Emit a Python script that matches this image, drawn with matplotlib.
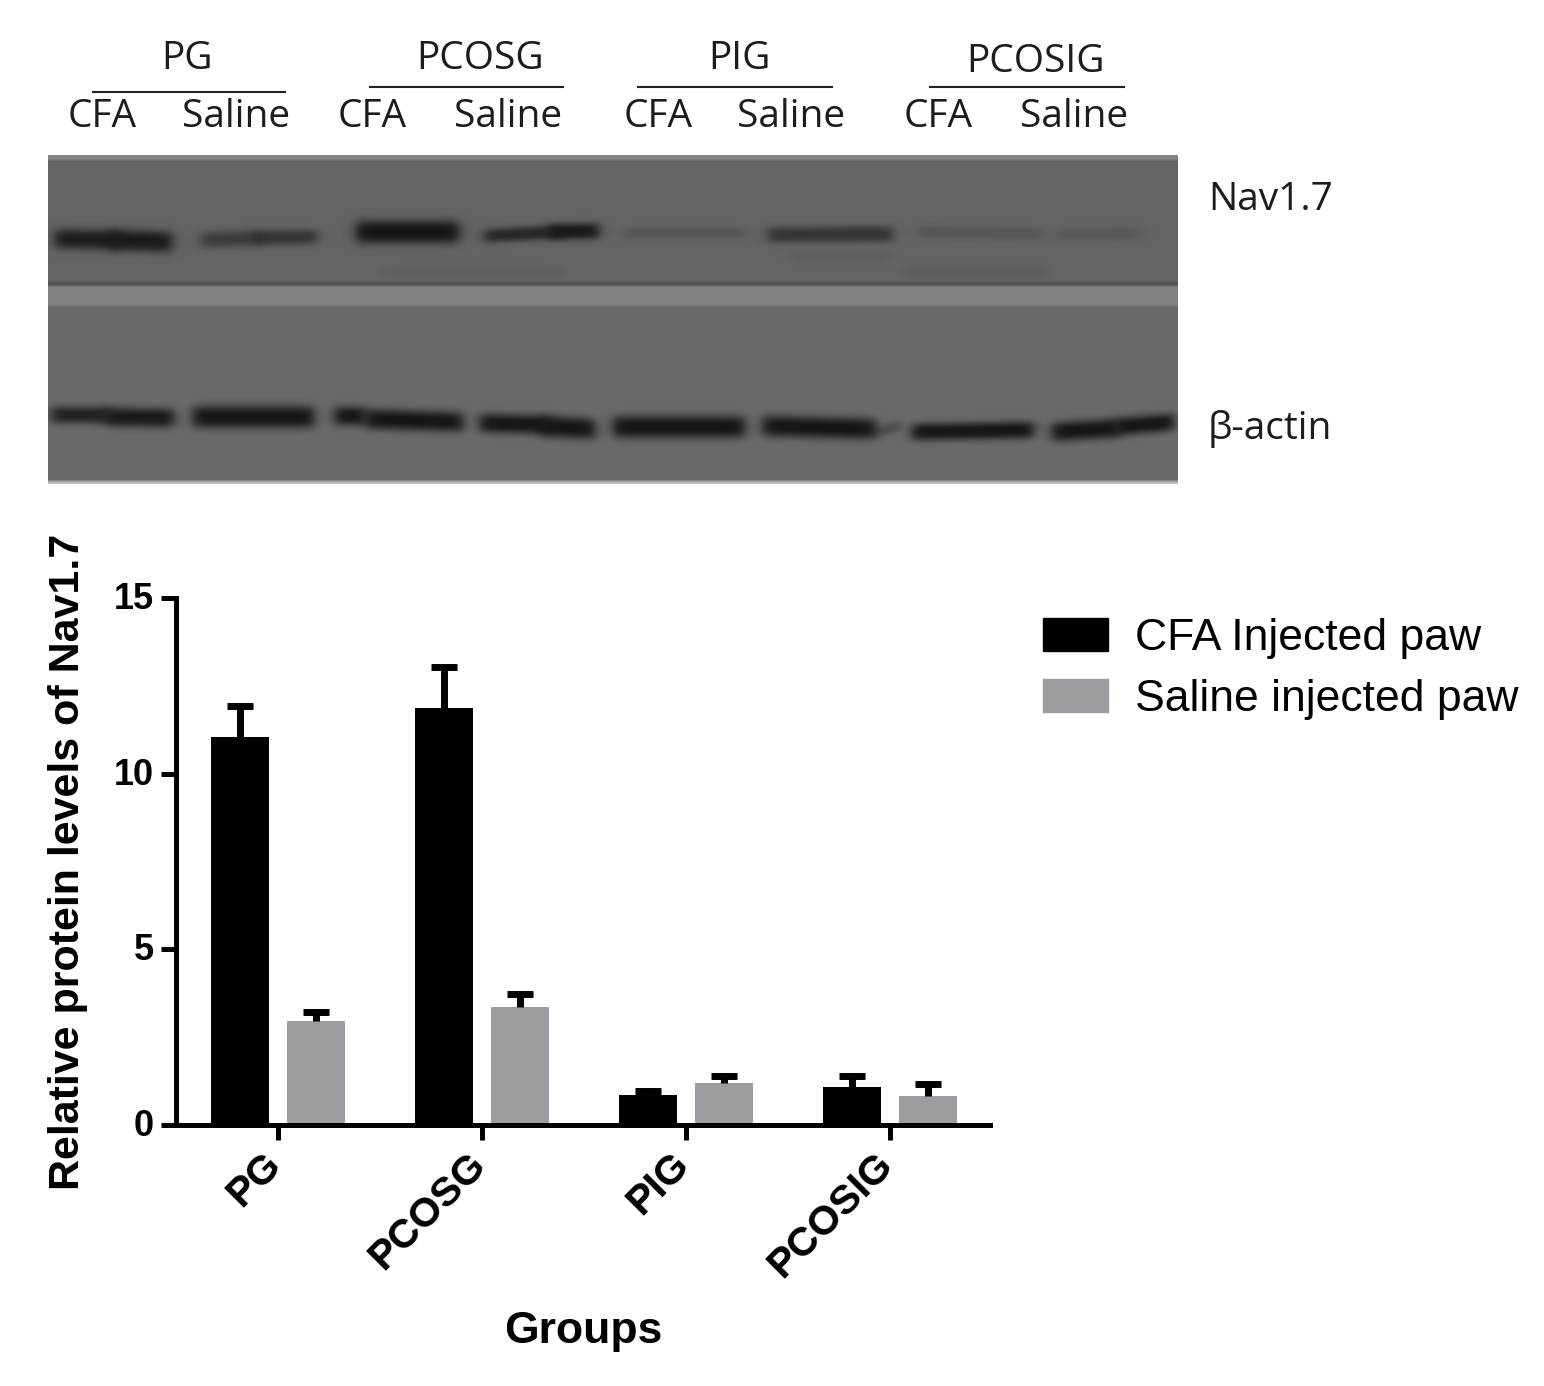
import numpy as np
import matplotlib
matplotlib.use('Agg')
import matplotlib.pyplot as plt
from matplotlib.lines import Line2D
from matplotlib.patches import Patch
from matplotlib.transforms import ScaledTranslation

W, H = 1544, 1386

# bar chart values
groups = ['PG', 'PCOSG', 'PIG', 'PCOSIG']
cfa = [11.05, 11.87, 0.85, 1.08]
cfa_err = [0.89, 1.17, 0.12, 0.32]
saline = [2.96, 3.36, 1.20, 0.83]
saline_err = [0.26, 0.37, 0.20, 0.34]
yticks = [0, 5, 10, 15]

# blot labels
header_names = ['PG', 'PCOSG', 'PIG', 'PCOSIG']
header_x = [187, 480, 739, 1035]
header_y = [55, 55, 55, 58]
line_x0 = [93, 370, 638, 930]
line_x1 = [285, 563, 832, 1124]
line_y = [92, 87, 87, 87]
cfa_x = [102, 372, 658, 938]
saline_x = [236, 508, 791, 1074]

# blot bands: x start, x end, y at start, y at end, thickness, darkness
top_bands = [
    (55, 120, 239, 240, 14, 0.90),
    (110, 172, 240, 242, 15, 0.95),
    (201, 262, 240, 238, 10, 0.50),
    (255, 317, 238, 237, 9, 0.60),
    (356, 459, 232, 232, 17, 1.10),
    (484, 560, 236, 232, 8, 0.75),
    (550, 599, 232, 231, 10, 0.95),
    (625, 745, 233, 233, 5, 0.18),
    (768, 893, 235, 234, 10, 0.60),
    (916, 1044, 232, 234, 6, 0.17),
    (1057, 1143, 234, 233, 7, 0.13),
    (385, 560, 272, 272, 5, 0.06),
    (790, 890, 257, 257, 5, 0.08),
    (905, 1045, 272, 272, 6, 0.10),
]
low_bands = [
    (51, 110, 415, 415, 11, 0.85),
    (105, 174, 417, 418, 13, 0.95),
    (193, 314, 417, 417, 16, 1.05),
    (335, 365, 416, 416, 13, 1.00),
    (365, 463, 419, 422, 14, 1.00),
    (480, 550, 423, 425, 13, 1.05),
    (540, 595, 426, 429, 15, 1.05),
    (613, 745, 427, 427, 16, 1.10),
    (763, 876, 426, 429, 15, 1.10),
    (876, 900, 432, 426, 5, 0.35),
    (912, 1034, 432, 430, 11, 1.00),
    (1052, 1120, 432, 428, 13, 1.10),
    (1115, 1174, 427, 422, 12, 1.10),
]

# blot background strips: y start, y end, grey level
strips = [
    (155, 160, 135),
    (160, 282, 100),
    (282, 286, 82),
    (286, 306, 130),
    (306, 481, 106),
    (481, 484, 185),
]

fig = plt.figure(figsize=(W / 100, H / 100), dpi=100, facecolor='white')


def fx(x):
    return x / W


def fy(y):
    return 1 - y / H


# ---- blot image ----
bx0, bx1, by0, by1 = 48, 1178, 155, 484
img = np.zeros((by1 - by0, bx1 - bx0))
xx, yy = np.meshgrid(np.arange(bx0, bx1) + 0.5, np.arange(by0, by1) + 0.5)
for y0, y1, g in strips:
    img[(yy >= y0) & (yy < y1)] = g

# soften the strip edges a little
soft = img.copy()
soft[1:-1] = (img[:-2] + img[1:-1] + img[2:]) / 3
img = soft

for b in top_bands + low_bands:
    x0, x1, ya, yb, th, dark = b
    centre = ya + (yb - ya) * (xx - x0) / (x1 - x0)
    across = np.exp(-(np.abs(yy - centre) / (th / 2 + 3.5)) ** 2.6)
    along = 1 / (1 + np.exp((x0 - xx) / 3.5)) * 1 / (1 + np.exp((xx - x1) / 3.5))
    level = np.clip(dark, 0, 1.0) * across * along
    img = img - level * (img - 22)
img = np.clip(img, 20, 255)

ax_blot = fig.add_axes([fx(bx0), fy(by1), (bx1 - bx0) / W, (by1 - by0) / H])
ax_blot.imshow(img, cmap='gray', vmin=0, vmax=255, aspect='auto', interpolation='bilinear')
ax_blot.axis('off')

# ---- labels over the blot ----
lab = {'family': 'Open Sans', 'fontsize': 28, 'color': '#1c1c1c', 'ha': 'center', 'va': 'center'}
for i in range(4):
    fig.text(fx(header_x[i]), fy(header_y[i] + 4), header_names[i], **lab)
    fig.add_artist(Line2D([fx(line_x0[i]), fx(line_x1[i])], [fy(line_y[i]), fy(line_y[i])],
                          color='#222222', lw=1.5))
    fig.text(fx(cfa_x[i]), fy(117), 'CFA', **lab)
    fig.text(fx(saline_x[i]), fy(117), 'Saline', **lab)
fig.text(fx(1208), fy(200), 'Nav1.7', family='Open Sans', fontsize=28, color='#1c1c1c', va='center')
fig.text(fx(1208), fy(429), 'β-actin', family=['Open Sans', 'DejaVu Sans'], fontsize=28, color='#1c1c1c', va='center')

# ---- bar chart ----
ax = fig.add_axes([fx(176), fy(1125), 814 / W, 527 / H])
pos = np.arange(len(groups))
offset = 38 / 204
width = 58 / 204
grey = '#9d9da1'

ax.bar(pos - offset, cfa, width, color='black', label='CFA Injected paw')
ax.bar(pos + offset, saline, width, color=grey, label='Saline injected paw')
for xs, ys, es in [(pos - offset, cfa, cfa_err), (pos + offset, saline, saline_err)]:
    eb = ax.errorbar(xs, ys, yerr=[np.zeros(4), es], fmt='none', ecolor='black',
                     elinewidth=5, capsize=9.5, capthick=5)
    eb[1][0].set_visible(False)  # only the upper cap

ax.set_xlim(-0.5, 3.49)
ax.set_ylim(0, 15)
ax.spines['top'].set_visible(False)
ax.spines['right'].set_visible(False)
ax.spines['left'].set_linewidth(3.6)
ax.spines['bottom'].set_linewidth(3.6)
ax.set_yticks(yticks)
ax.set_xticks(pos)
ax.set_xticklabels(groups)
ax.tick_params(axis='both', width=3.6, length=11, pad=5)
up = ScaledTranslation(0, 2.5 / 100, fig.dpi_scale_trans)
left = ScaledTranslation(-16 / 100, 2 / 100, fig.dpi_scale_trans)
for t in ax.get_yticklabels():
    t.set(family='Liberation Sans', fontweight='bold', fontsize=26)
    t.set_transform(t.get_transform() + up)
for t in ax.get_xticklabels():
    t.set(family='Liberation Sans', fontweight='bold', fontsize=29.5, rotation=45,
          ha='right', va='top', rotation_mode='anchor')
    t.set_transform(t.get_transform() + left)

fig.text(fx(68), fy(862), 'Relative protein levels of Nav1.7', family='Liberation Sans',
         fontweight='bold', fontsize=31, rotation=90, ha='center', va='center')
fig.text(fx(583), fy(1331), 'Groups', family='Liberation Sans', fontweight='bold',
         fontsize=32, ha='center', va='center')

handles = [Patch(color='black'), Patch(color=grey)]
fig.legend(handles, ['CFA Injected paw', 'Saline injected paw'], loc='upper left',
           bbox_to_anchor=(fx(1043), fy(618)), frameon=False, borderpad=0, borderaxespad=0,
           prop={'family': 'Liberation Sans', 'size': 32}, handlelength=1.46, handleheight=0.76,
           handletextpad=0.62, labelspacing=0.45)

fig.savefig('out.png', dpi=100)
